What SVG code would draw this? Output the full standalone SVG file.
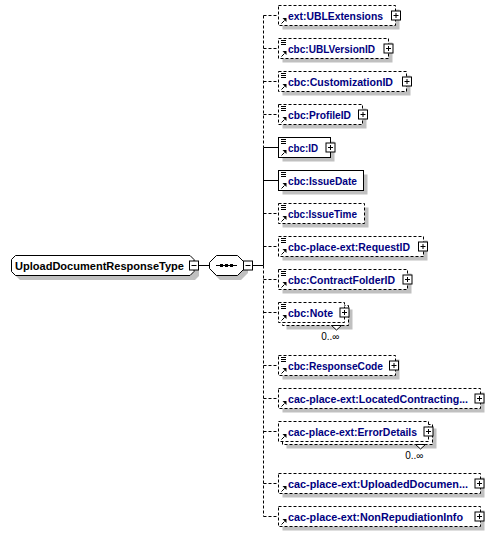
<svg xmlns="http://www.w3.org/2000/svg" width="494" height="535" viewBox="0 0 494 535">
<defs>
<style>
.bg{fill:#ffffff}
.sh{fill:#c0c0c0;stroke:none}
.box{fill:#ffffff;stroke:#000;stroke-width:1}
.dash{stroke-dasharray:3,2}
.ln{fill:none;stroke:#000;stroke-width:1}
.lbl{font-family:"Liberation Sans",Arial,sans-serif;font-weight:bold;font-size:11px;fill:#000080}
.root{font-family:"Liberation Sans",Arial,sans-serif;font-weight:bold;font-size:11px;fill:#000000}
.occ{font-family:"Liberation Sans",Arial,sans-serif;font-size:10px;fill:#000000}
.ic{fill:none;stroke:#000;stroke-width:1}
.ah{fill:#000;stroke:none}
</style>
<g id="pl"><rect x="-4.5" y="-4.5" width="9" height="9" class="box"/><path d="M-2.5,0H2.5M0,-2.5V2.5" class="ln"/></g>
<g id="mi"><rect x="-4.5" y="-4.5" width="9" height="9" class="box"/><path d="M-2.5,0H2.5" class="ln"/></g>
<g id="eq"><path d="M281,2.5H286M281,4.5H286M281,6.5H286" class="ic"/></g>
<g id="ar"><path d="M281.5,18.5L284.5,15.5" class="ic" stroke-width="1.3"/><polygon points="286.5,13 286.5,17 282.5,13" class="ah"/></g>
</defs>
<rect width="494" height="535" class="bg"/>

<g id="connectors">
<path d="M199,265.5H209M252.5,265.5H263.5" class="ln"/>
<path d="M263.5,15.5V147.5" class="ln dash"/>
<path d="M263.5,147.5V265.5" class="ln"/>
<path d="M263.5,265.5V516.5" class="ln dash"/>
<path d="M263.5,15.5H278M263.5,48.5H278M263.5,81.5H278M263.5,114.5H278M263.5,213.5H278M263.5,246.5H278M263.5,279.5H278M263.5,312.5H278M263.5,365.5H278M263.5,398.5H278M263.5,431.5H278M263.5,483.5H278M263.5,516.5H278" class="ln dash"/>
<path d="M263.5,147.5H278M263.5,180.5H278" class="ln"/>
</g>

<g id="root">
<path d="M20,260H195L199,264V276L195,280H20L16,276V264Z" class="sh"/>
<path d="M15.5,255.5H190L194,259.5V271.5L190,275.5H15.5L11.5,271.5V259.5Z" class="box"/>
<text x="15" y="269.5" class="root" textLength="169" lengthAdjust="spacingAndGlyphs">UploadDocumentResponseType</text>
<use href="#mi" x="194" y="265.5"/>
</g>

<g id="sequence">
<path d="M220,260H241L248,267V273L241,280H220L213,273V267Z" class="sh"/>
<path d="M216.5,255.5H237.5L244.5,262.5V268.5L237.5,275.5H216.5L209.5,268.5V262.5Z" class="box"/>
<path d="M216,265.5H237" class="ln"/>
<rect x="220" y="264" width="3" height="3" fill="#000"/>
<rect x="225" y="264" width="3" height="3" fill="#000"/>
<rect x="230" y="264" width="3" height="3" fill="#000"/>
<use href="#mi" x="248" y="265.5"/>
</g>

<g id="e1" transform="translate(0,5)">
<rect x="282.5" y="4.5" width="117" height="20" class="sh"/>
<rect x="278.5" y="0.5" width="117" height="20" class="box dash"/>
<use href="#ar"/>
<text x="288" y="14.5" class="lbl" textLength="95" lengthAdjust="spacingAndGlyphs">ext:UBLExtensions</text>
<use href="#pl" x="396" y="10.5"/>
</g>

<g id="e2" transform="translate(0,38)">
<rect x="282.5" y="4.5" width="110" height="20" class="sh"/>
<rect x="278.5" y="0.5" width="110" height="20" class="box dash"/>
<use href="#eq"/><use href="#ar"/>
<text x="288" y="14.5" class="lbl" textLength="87" lengthAdjust="spacingAndGlyphs">cbc:UBLVersionID</text>
<use href="#pl" x="388.5" y="10.5"/>
</g>

<g id="e3" transform="translate(0,71)">
<rect x="282.5" y="4.5" width="128" height="20" class="sh"/>
<rect x="278.5" y="0.5" width="128" height="20" class="box dash"/>
<use href="#eq"/><use href="#ar"/>
<text x="288" y="14.5" class="lbl" textLength="105" lengthAdjust="spacingAndGlyphs">cbc:CustomizationID</text>
<use href="#pl" x="407" y="10.5"/>
</g>

<g id="e4" transform="translate(0,104)">
<rect x="282.5" y="4.5" width="84" height="20" class="sh"/>
<rect x="278.5" y="0.5" width="84" height="20" class="box dash"/>
<use href="#eq"/><use href="#ar"/>
<text x="288" y="14.5" class="lbl" textLength="63" lengthAdjust="spacingAndGlyphs">cbc:ProfileID</text>
<use href="#pl" x="363" y="10.5"/>
</g>

<g id="e5" transform="translate(0,137)">
<rect x="282.5" y="4.5" width="52" height="20" class="sh"/>
<rect x="278.5" y="0.5" width="52" height="20" class="box"/>
<use href="#eq"/><use href="#ar"/>
<text x="288" y="14.5" class="lbl" textLength="30" lengthAdjust="spacingAndGlyphs">cbc:ID</text>
<use href="#pl" x="330.5" y="10.5"/>
</g>

<g id="e6" transform="translate(0,170)">
<rect x="282.5" y="4.5" width="85" height="20" class="sh"/>
<rect x="278.5" y="0.5" width="85" height="20" class="box"/>
<use href="#eq"/><use href="#ar"/>
<text x="288" y="14.5" class="lbl" textLength="69" lengthAdjust="spacingAndGlyphs">cbc:IssueDate</text>
</g>

<g id="e7" transform="translate(0,203)">
<rect x="282.5" y="4.5" width="86" height="20" class="sh"/>
<rect x="278.5" y="0.5" width="86" height="20" class="box dash"/>
<use href="#eq"/><use href="#ar"/>
<text x="288" y="14.5" class="lbl" textLength="69" lengthAdjust="spacingAndGlyphs">cbc:IssueTime</text>
</g>

<g id="e8" transform="translate(0,236)">
<rect x="282.5" y="4.5" width="145" height="20" class="sh"/>
<rect x="278.5" y="0.5" width="145" height="20" class="box dash"/>
<use href="#eq"/><use href="#ar"/>
<text x="288" y="14.5" class="lbl" textLength="122" lengthAdjust="spacingAndGlyphs">cbc-place-ext:RequestID</text>
<use href="#pl" x="423" y="10.5"/>
</g>

<g id="e9" transform="translate(0,269)">
<rect x="282.5" y="4.5" width="129" height="20" class="sh"/>
<rect x="278.5" y="0.5" width="129" height="20" class="box dash"/>
<use href="#eq"/><use href="#ar"/>
<text x="288" y="14.5" class="lbl" textLength="107" lengthAdjust="spacingAndGlyphs">cbc:ContractFolderID</text>
<use href="#pl" x="407.5" y="10.5"/>
</g>

<g id="e10" transform="translate(0,302)">
<rect x="286.5" y="7.5" width="66" height="20" class="sh"/>
<rect x="282.5" y="3.5" width="66" height="20" class="box dash"/>
<rect x="278.5" y="0.5" width="66" height="20" class="box dash"/>
<use href="#eq"/><use href="#ar"/>
<text x="288" y="14.5" class="lbl" textLength="45" lengthAdjust="spacingAndGlyphs">cbc:Note</text>
<use href="#pl" x="344.5" y="10.5"/>
<polygon points="331.5,23.5 336.5,28 341.5,23.5" class="box"/>
<text x="339.5" y="37.5" class="occ" text-anchor="end">0..∞</text>
</g>

<g id="e11" transform="translate(0,355)">
<rect x="282.5" y="4.5" width="117" height="20" class="sh"/>
<rect x="278.5" y="0.5" width="117" height="20" class="box dash"/>
<use href="#eq"/><use href="#ar"/>
<text x="288" y="14.5" class="lbl" textLength="95" lengthAdjust="spacingAndGlyphs">cbc:ResponseCode</text>
<use href="#pl" x="394" y="10.5"/>
</g>

<g id="e12" transform="translate(0,388)">
<rect x="282.5" y="4.5" width="202" height="20" class="sh"/>
<rect x="278.5" y="0.5" width="202" height="20" class="box dash"/>
<use href="#ar"/>
<text x="288" y="14.5" class="lbl" textLength="180" lengthAdjust="spacingAndGlyphs">cac-place-ext:LocatedContracting...</text>
<use href="#pl" x="479.5" y="10.5"/>
</g>

<g id="e13" transform="translate(0,421)">
<rect x="286.5" y="7.5" width="150" height="20" class="sh"/>
<rect x="282.5" y="3.5" width="150" height="20" class="box dash"/>
<rect x="278.5" y="0.5" width="150" height="20" class="box dash"/>
<use href="#ar"/>
<text x="288" y="14.5" class="lbl" textLength="129" lengthAdjust="spacingAndGlyphs">cac-place-ext:ErrorDetails</text>
<use href="#pl" x="428.5" y="10.5"/>
<polygon points="415.5,23.5 420.5,28 425.5,23.5" class="box"/>
<text x="423.5" y="37.5" class="occ" text-anchor="end">0..∞</text>
</g>

<g id="e14" transform="translate(0,473)">
<rect x="282.5" y="4.5" width="202" height="20" class="sh"/>
<rect x="278.5" y="0.5" width="202" height="20" class="box dash"/>
<use href="#ar"/>
<text x="288" y="14.5" class="lbl" textLength="180" lengthAdjust="spacingAndGlyphs">cac-place-ext:UploadedDocumen...</text>
<use href="#pl" x="479.5" y="10.5"/>
</g>

<g id="e15" transform="translate(0,506)">
<rect x="282.5" y="4.5" width="202" height="20" class="sh"/>
<rect x="278.5" y="0.5" width="202" height="20" class="box dash"/>
<use href="#ar"/>
<text x="288" y="14.5" class="lbl" textLength="175" lengthAdjust="spacingAndGlyphs">cac-place-ext:NonRepudiationInfo</text>
<use href="#pl" x="479.5" y="10.5"/>
</g>
</svg>
